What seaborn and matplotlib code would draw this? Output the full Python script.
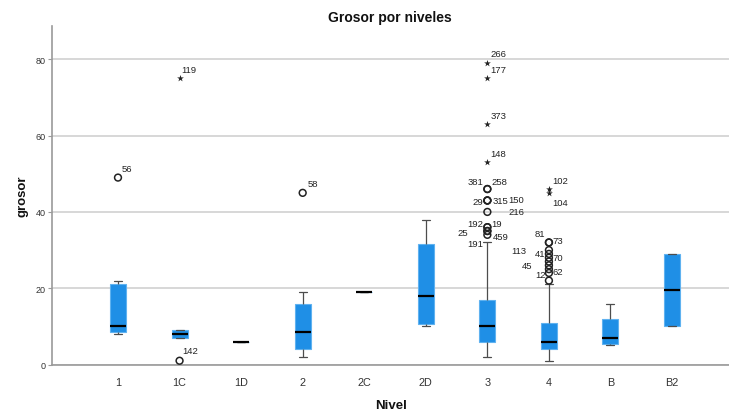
import numpy as np
import pandas as pd
import matplotlib
matplotlib.use("Agg")
import matplotlib.pyplot as plt
import seaborn as sns

# ---------------- data ----------------
categories = ["1", "1C", "1D", "2", "2C", "2D", "3", "4", "B", "B2"]
whisker_low = [8, 7, 6, 2, 19, 10, 2, 1, 5, 10]
q1 = [8.5, 7, 6, 4, 19, 10.5, 6, 4, 5.5, 10]
median = [10, 8, 6, 8.5, 19, 18, 10, 6, 7, 19.5]
q3 = [21, 9, 6, 16, 19, 31.5, 17, 11, 12, 29]
whisker_high = [22, 9, 6, 19, 19, 38, 32, 21, 16, 29]

out_cat = ["1", "1C", "1C", "2",
           "3", "3", "3", "3", "3", "3", "3", "3", "3", "3", "3", "3", "3", "3", "3",
           "4", "4", "4", "4", "4", "4", "4", "4", "4", "4", "4", "4"]
out_val = [49, 75, 1, 45,
           79, 75, 63, 53, 46, 46, 43, 43, 43, 40, 36, 36, 35, 35, 34,
           46, 45, 32, 32, 30, 29, 28, 27, 26, 25, 24, 22]
out_label = ["56", "119", "142", "58",
             "266", "177", "373", "148", "381", "258", "29", "315", "150", "216",
             "192", "19", "25", "459", "191",
             "102", "104", "73", "81", "113", "41", "70", "", "45", "62", "", "12"]
out_extreme = [False, True, False, False,
               True, True, True, True, False, False, False, False, False, False,
               False, False, False, False, False,
               True, True, False, False, False, False, False, False, False, False, False, False]

# label placement (pixels): (dx, dy, horizontal alignment)
label_place = [(4, 9, "left"), (2, 9, "left"), (3, 10, "left"), (5, 9, "left"),
               (3, 10, "left"), (3, 9, "left"), (3, 9, "left"), (3, 9, "left"),
               (-4, 8, "right"), (4, 8, "left"), (-4, -1, "right"), (5, 0, "left"),
               (21, 1, "left"), (21, 0, "left"),
               (-4, 4, "right"), (4, 4, "left"), (-19, -1, "right"), (5, -5, "left"),
               (-4, -9, "right"),
               (3, 9, "left"), (3, -10, "left"), (4, 2, "left"), (-4, 9, "right"),
               (-23, 0, "right"), (-4, 0, "right"), (4, 0, "left"), (0, 0, "left"),
               (-17, 0, "right"), (4, -2, "left"), (0, 0, "left"), (-3, 6, "right")]

# ---------------- build long table ----------------
rows = []
for c, a, b, m, d, e in zip(categories, whisker_low, q1, median, q3, whisker_high):
    for v in (a, b, m, d, e):
        rows.append({"Nivel": c, "grosor": v})
df = pd.DataFrame(rows)

sns.set_theme(style="white")
plt.rcParams["font.family"] = ["Liberation Sans", "DejaVu Sans"]

fig = plt.figure(figsize=(7.29, 4.14), dpi=100)
ax = fig.add_axes([0.072, 0.117, 0.928, 0.8185])

box_color = "#1f8fe6"
sns.boxplot(data=df, x="Nivel", y="grosor", order=categories, whis=(0, 100),
            width=0.26, color=box_color, saturation=1, showfliers=False,
            boxprops={"edgecolor": "#5fb2f0", "linewidth": 0.8},
            medianprops={"color": "black", "linewidth": 1.6},
            whiskerprops={"color": "#4d4d4d", "linewidth": 0.9},
            capprops={"color": "#4d4d4d", "linewidth": 0.9},
            ax=ax, zorder=3)

# outliers
pos = np.array([categories.index(c) for c in out_cat], dtype=float)
vals = np.array(out_val, dtype=float)
ext = np.array(out_extreme)
ax.scatter(pos[~ext], vals[~ext], s=24, marker="o", facecolors="none",
           edgecolors="#222222", linewidths=1.1, zorder=4)
ax.scatter(pos[ext], vals[ext], s=26, marker="*", color="#222222",
           linewidths=0, zorder=4)

for x, y, lab, (dx, dy, ha) in zip(pos, vals, out_label, label_place):
    if lab:
        ax.annotate(lab, (x, y), xytext=(dx, dy), textcoords="offset pixels",
                    ha=ha, va="center", fontsize=6.8, color="#222222", zorder=5)

# axes styling
ax.set_xlim(-1.064, 9.925)
ax.set_ylim(0, 88.8)
ax.set_yticks([0, 20, 40, 60, 80])
ax.yaxis.grid(True, color="#d4d4d4", linewidth=1.3, zorder=0)
ax.set_axisbelow(True)
for s in ["top", "right"]:
    ax.spines[s].set_visible(False)
for s in ["left", "bottom"]:
    ax.spines[s].set_color("#9a9a9a")
    ax.spines[s].set_linewidth(1.2)
ax.tick_params(axis="x", length=0, labelsize=7.8, labelcolor="#333333", pad=9)
ax.tick_params(axis="y", left=True, length=3, width=0.8, color="#9a9a9a",
               labelsize=6.5, labelcolor="#333333", pad=2)

ax.set_xlabel("Nivel", fontsize=9.5, fontweight="bold", color="#111111")
ax.set_ylabel("grosor", fontsize=9.5, fontweight="bold", color="#111111")
ax.xaxis.set_label_coords(0.5, -0.102)
ax.yaxis.set_label_coords(-0.035, 0.5)

fig.text(0.535, 1 - 18 / 414, "Grosor por niveles", ha="center", va="center",
         fontsize=10, fontweight="bold", color="#111111")

fig.savefig("out.png", dpi=100)
